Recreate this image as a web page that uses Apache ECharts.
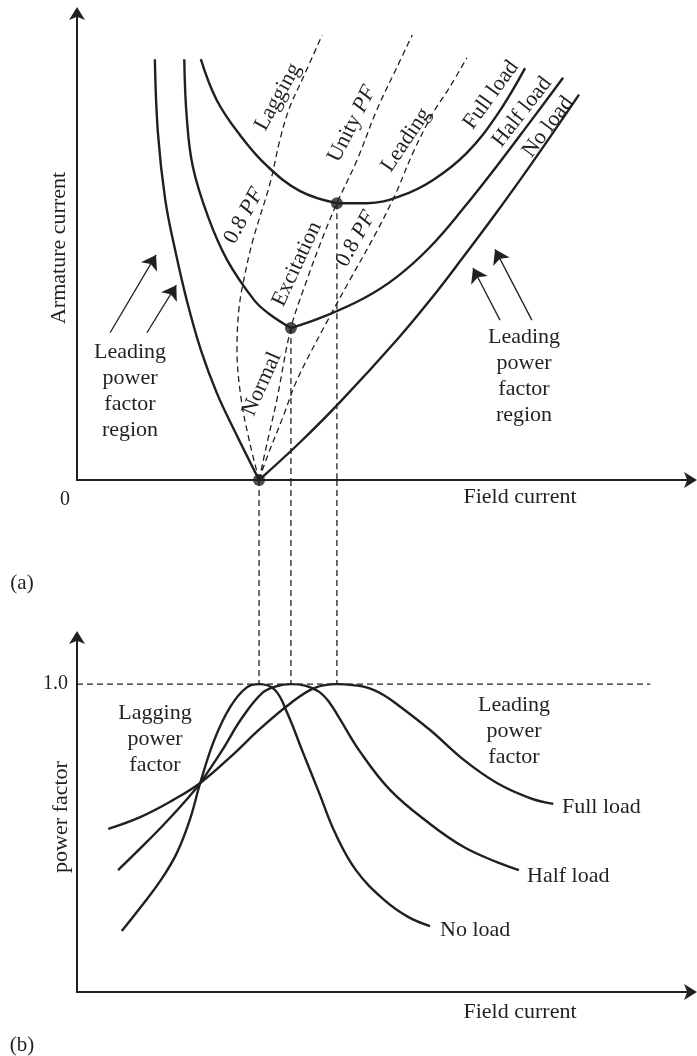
<!DOCTYPE html>
<html><head><meta charset="utf-8">
<script src="https://cdn.jsdelivr.net/npm/echarts@6/dist/echarts.min.js"></script>
<style>html,body{margin:0;padding:0;background:#fff}#c{width:697px;height:1056px}</style>
</head><body><div id="c"></div>
<script>
// ---------- DATA (arbitrary units) ----------
// (a) V-curves: [field current, armature current]
const vNoLoadLeft   = [[1.27,9.03],[1.32,7.45],[1.44,6.01],[1.60,4.94],[1.79,3.86],[2.02,2.79],[2.28,1.87],[2.58,1.03],[2.97,0]];
const vNoLoadRight  = [[2.97,0],[3.64,0.81],[4.29,1.67],[5.22,3.01],[5.76,3.86],[6.31,4.80],[6.85,5.75],[7.39,6.74],[8.19,8.27]];
const vHalfLoadLeft = [[1.75,9.03],[1.79,7.79],[1.89,6.72],[2.14,5.64],[2.45,4.72],[2.89,3.86],[3.12,3.58],[3.49,3.26]];
const vHalfLoadRight= [[3.49,3.26],[4.01,3.50],[4.68,3.90],[5.22,4.36],[5.76,5.00],[6.31,5.84],[6.85,6.74],[7.39,7.68],[7.93,8.63]];
const vFullLoadLeft = [[2.02,9.03],[2.28,8.15],[2.66,7.40],[3.10,6.74],[3.64,6.20],[4.24,5.94]];
const vFullLoadRight= [[4.24,5.94],[4.73,5.94],[5.27,6.09],[5.81,6.44],[6.36,7.02],[6.85,7.83],[7.31,8.84]];
// constant power-factor loci (dashed)
const locusLagging08 = [[2.97,0],[2.82,0.79],[2.68,1.72],[2.61,2.79],[2.64,3.65],[2.72,4.29],[2.87,5.15],[3.15,6.37],[3.31,7.30],[3.47,8.00],[3.67,8.58],[4.00,9.55]];
const locusUnity     = [[2.97,0],[3.10,0.79],[3.26,1.72],[3.49,3.26],[3.75,4.29],[4.01,5.21],[4.24,5.94],[4.57,6.87],[4.89,7.94],[5.22,8.86],[5.47,9.55]];
const locusLeading08 = [[2.97,0],[3.10,0.49],[3.36,1.35],[3.59,2.15],[4.05,3.33],[4.45,4.29],[4.86,5.26],[5.19,6.12],[5.48,7.02],[5.81,7.88],[6.08,8.43],[6.36,9.06]];
const minimumPoints  = [[2.97,0],[3.49,3.26],[4.24,5.94]];
// annotation arrows [tail, head]
const arrowsLeft  = [[[0.54,3.16],[1.29,4.83]],[[1.14,3.16],[1.62,4.18]]];
const arrowsRight = [[[7.42,3.43],[6.82,4.95]],[[6.90,3.43],[6.46,4.55]]];

// (b) power factor vs field current
const pfNoLoad   = [[0.73,0.198],[1.04,0.276],[1.37,0.364],[1.63,0.452],[1.84,0.559],[2.01,0.679],[2.24,0.819],[2.50,0.926],[2.76,0.988],[2.97,1.0],[3.23,0.981],[3.43,0.906],[3.69,0.776],[3.95,0.647],[4.21,0.517],[4.55,0.396],[5.01,0.299],[5.40,0.244],[5.76,0.214]];
const pfHalfLoad = [[0.67,0.396],[1.04,0.468],[1.44,0.549],[1.84,0.637],[2.01,0.679],[2.37,0.786],[2.69,0.890],[3.02,0.971],[3.25,0.993],[3.49,1.0],[3.72,0.995],[3.95,0.975],[4.12,0.940],[4.27,0.893],[4.62,0.780],[5.11,0.656],[5.76,0.546],[6.31,0.471],[6.85,0.422],[7.21,0.396]];
const pfFullLoad = [[0.51,0.530],[1.04,0.569],[1.57,0.624],[2.01,0.679],[2.50,0.763],[3.02,0.861],[3.49,0.939],[3.88,0.988],[4.24,1.0],[4.50,0.997],[4.75,0.988],[5.00,0.965],[5.22,0.935],[5.76,0.851],[6.31,0.754],[6.85,0.679],[7.39,0.630],[7.77,0.611]];
const unityPF = 1.0;
const unityLineEnd = 9.35;
const pfTickLabels = {1: '1.0'};

// ---------- STYLE ----------
const INK = '#231f20';
const SERIF = '"Liberation Serif","Times New Roman",serif';

function solid(data, g) {
  return {type:'line', xAxisIndex:g, yAxisIndex:g, data, smooth:0.4, symbol:'none', silent:true, z:4,
    lineStyle:{color:INK, width:2.4}};
}
function dashed(data, g, smooth) {
  return {type:'line', xAxisIndex:g, yAxisIndex:g, data, smooth: smooth ? 0.35 : false, symbol:'none', silent:true, z:2,
    lineStyle:{color:INK, width:1.3, type:[6,4]}};
}
function axisPair(g, yMax, showLabel) {
  const axLine = {show:true, symbol:['none','arrow'], symbolSize:[12,13], symbolOffset:[0,7], lineStyle:{color:INK, width:2}};
  const x = {type:'value', gridIndex:g, min:0, max:10, axisLine:axLine, axisTick:{show:false}, axisLabel:{show:false}, splitLine:{show:false}};
  const y = {type:'value', gridIndex:g, min:0, max:yMax, axisLine:axLine, axisTick:{show:false}, splitLine:{show:false},
    axisLabel: showLabel ? {show:true, formatter: v => pfTickLabels[v] || '', fontFamily:SERIF, fontSize:20, color:INK, margin:9} : {show:false}};
  if (showLabel) y.interval = 0.5;
  return [x, y];
}
function txt(x, y, text, o) {
  o = o || {};
  const st = {text, fill:INK, fontFamily:SERIF, fontSize:o.size || 22, fontStyle:'normal',
    align:o.align || 'center', verticalAlign:'middle', textAlign:o.align || 'center', textVerticalAlign:'middle', lineHeight:o.lh || 26};
  if (o.rich) st.rich = o.rich;
  return {type:'text', x, y, rotation:(o.rot || 0) * Math.PI / 180, z:10, silent:true, style:st};
}
const pfRich = {
  n:{fontFamily:SERIF, fontSize:22, fill:INK, color:INK},
  i:{fontFamily:SERIF, fontSize:22, fontStyle:'italic', fill:INK, color:INK}
};

const [x0, y0] = axisPair(0, 10, false);
const [x2, y2] = axisPair(2, 1.15, true);
const x1 = {type:'value', gridIndex:1, min:0, max:10, show:false};
const y1 = {type:'value', gridIndex:1, min:0, max:1, show:false};

const series = [
  solid(vNoLoadLeft,0), solid(vNoLoadRight,0),
  solid(vHalfLoadLeft,0), solid(vHalfLoadRight,0),
  solid(vFullLoadLeft,0), solid(vFullLoadRight,0),
  dashed(locusLagging08,0,true), dashed(locusUnity,0,true), dashed(locusLeading08,0,true),
  {type:'scatter', xAxisIndex:0, yAxisIndex:0, data:minimumPoints, symbol:'circle', symbolSize:12, itemStyle:{color:INK}, silent:true, z:6, clip:false},
  {type:'lines', coordinateSystem:'cartesian2d', xAxisIndex:0, yAxisIndex:0, silent:true, z:5,
    symbol:['none','arrow'], symbolSize:14,
    lineStyle:{color:INK, width:1.3, opacity:1},
    data: arrowsLeft.concat(arrowsRight).map(c => ({coords:c}))},
  solid(pfNoLoad,2), solid(pfHalfLoad,2), solid(pfFullLoad,2),
  dashed([[0,unityPF],[unityLineEnd,unityPF]],2,false)
];
// vertical guides from each minimum down to the unity-PF line of (b)
minimumPoints.forEach(p => {
  if (p[1] > 0) series.push(dashed([[p[0],p[1]],[p[0],0]],0,false));
  series.push(dashed([[p[0],1],[p[0],0]],1,false));
});

const graphic = [
  txt(59,248,'Armature current',{rot:90}),
  txt(65,500,'0',{size:20}),
  txt(520,497,'Field current'),
  txt(22,583,'(a)',{size:21}),
  txt(130,391,'Leading\npower\nfactor\nregion'),
  txt(524,376,'Leading\npower\nfactor\nregion'),
  txt(278,97,'Lagging',{rot:61}),
  txt(352,124,'{n|Unity }{i|PF}',{rot:63, rich:pfRich}),
  txt(406,140,'Leading',{rot:56}),
  txt(491,95,'Full load',{rot:54}),
  txt(522,112,'Half load',{rot:52}),
  txt(548,127,'No load',{rot:53}),
  txt(244,216,'{n|0.8 }{i|PF}',{rot:61, rich:pfRich}),
  txt(297,264,'Excitation',{rot:65}),
  txt(262,384,'Normal',{rot:66}),
  txt(356,239,'{n|0.8 }{i|PF}',{rot:61, rich:pfRich}),
  txt(61,817,'power factor',{rot:90}),
  txt(155,739,'Lagging\npower\nfactor'),
  txt(514,731,'Leading\npower\nfactor'),
  txt(562,807,'Full load',{align:'left'}),
  txt(527,876,'Half load',{align:'left'}),
  txt(440,930,'No load',{align:'left'}),
  txt(520,1012,'Field current'),
  txt(22,1045,'(b)',{size:21})
];

const chart = echarts.init(document.getElementById('c'), null, {renderer:'canvas'});
chart.setOption({
  animation:false,
  backgroundColor:'#fff',
  grid:[
    {left:77, top:14, width:613, height:466, containLabel:false, outerBoundsMode:'none'},
    {left:77, top:480, width:613, height:204, containLabel:false, outerBoundsMode:'none'},
    {left:77, top:638, width:613, height:354, containLabel:false, outerBoundsMode:'none'}
  ],
  xAxis:[x0, x1, x2],
  yAxis:[y0, y1, y2],
  series,
  graphic
});
</script></body></html>
